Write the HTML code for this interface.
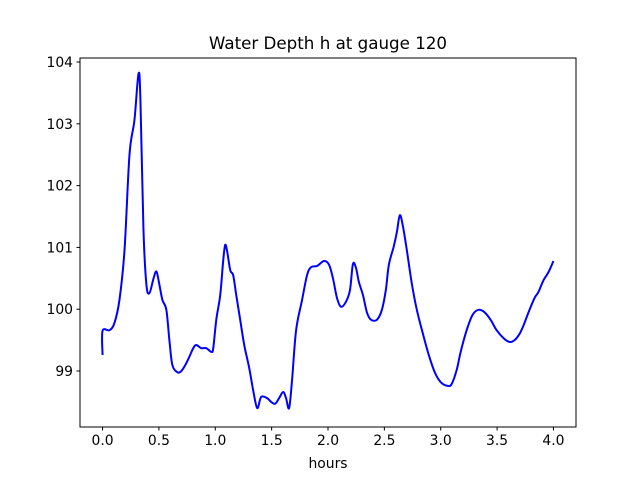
<!DOCTYPE html>
<html><head><meta charset="utf-8"><style>
html,body{margin:0;padding:0;background:#fff;}
svg text{font-family:"DejaVu Sans","Liberation Sans",sans-serif;fill:#000;}
</style></head><body>
<svg id="chart" width="640" height="480" viewBox="0 0 640 480" xmlns="http://www.w3.org/2000/svg">
<rect width="640" height="480" fill="#fff"/>
<text x="328" y="49" font-size="16.7" text-anchor="middle">Water Depth h at gauge 120</text>
<g id="plot"></g>
<rect x="80" y="58" width="496" height="369" fill="none" stroke="#000" stroke-width="1"/>
<text x="328" y="468" font-size="13.9" text-anchor="middle">hours</text>
</svg>
<script>
const xTicks = [0.0,0.5,1.0,1.5,2.0,2.5,3.0,3.5,4.0];
const xTickLabels = ["0.0","0.5","1.0","1.5","2.0","2.5","3.0","3.5","4.0"];
const yTicks = [99,100,101,102,103,104];
const yTickLabels = ["99","100","101","102","103","104"];
const hours = [0,0,0.062,0.106,0.150,0.195,0.239,0.283,0.319,0.336,0.363,0.389,0.416,0.451,0.478,0.504,0.531,0.566,0.593,0.619,0.664,0.699,0.735,0.770,0.805,0.832,0.876,0.920,0.965,0.982,1.009,1.044,1.071,1.088,1.106,1.133,1.159,1.186,1.221,1.257,1.301,1.336,1.372,1.407,1.460,1.496,1.531,1.566,1.602,1.628,1.655,1.681,1.717,1.770,1.814,1.850,1.903,1.965,2.009,2.044,2.080,2.115,2.159,2.195,2.221,2.248,2.274,2.310,2.345,2.381,2.434,2.478,2.513,2.540,2.584,2.611,2.637,2.664,2.699,2.743,2.788,2.841,2.894,2.947,3.000,3.062,3.097,3.142,3.177,3.230,3.283,3.336,3.389,3.442,3.496,3.558,3.611,3.655,3.699,3.735,3.779,3.832,3.867,3.912,3.956,4.0];
const depth = [99.26,99.65,99.66,99.78,100.15,100.96,102.50,103.06,103.81,103.39,101.29,100.40,100.26,100.49,100.61,100.40,100.15,99.99,99.50,99.10,98.98,99.00,99.10,99.23,99.37,99.42,99.37,99.37,99.31,99.37,99.83,100.23,100.80,101.04,100.93,100.63,100.55,100.23,99.83,99.42,99.05,98.69,98.40,98.58,98.56,98.50,98.47,98.56,98.66,98.56,98.40,98.85,99.66,100.15,100.55,100.68,100.70,100.78,100.72,100.50,100.18,100.04,100.12,100.31,100.73,100.67,100.44,100.23,99.95,99.83,99.83,99.99,100.31,100.72,101.02,101.25,101.52,101.35,100.96,100.42,99.99,99.61,99.26,98.98,98.82,98.76,98.79,99.02,99.31,99.66,99.91,99.99,99.95,99.83,99.66,99.53,99.47,99.50,99.60,99.74,99.95,100.18,100.28,100.47,100.60,100.78];

const L=80,R=576,T=58,B=427;
const xMin=-0.2,xMax=4.2,yMin=98.094,yMax=104.065;
const sx=v=>L+(v-xMin)/(xMax-xMin)*(R-L);
const sy=v=>B-(v-yMin)/(yMax-yMin)*(B-T);
const NS="http://www.w3.org/2000/svg";
const g=document.getElementById('plot');
function mk(tag,attrs){const e=document.createElementNS(NS,tag);for(const k in attrs)e.setAttribute(k,attrs[k]);g.appendChild(e);return e;}
xTicks.forEach((t,i)=>{
  const x=sx(t);
  const l=mk('line',{x1:x,x2:x,y1:B,y2:B+3.5,stroke:'#000','stroke-width':1});
  
  
  const tx=mk('text',{x:x,y:B+18,'font-size':13.9,'text-anchor':'middle'});
  tx.textContent=xTickLabels[i];
  
  
});
yTicks.forEach((t,i)=>{
  const y=sy(t);
  const l=mk('line',{x1:L-3.5,x2:L,y1:y,y2:y,stroke:'#000','stroke-width':1});
  
  
  const tx=mk('text',{x:L-7,y:y+5,'font-size':13.9,'text-anchor':'end'});
  tx.textContent=yTickLabels[i];
  
  
});
const pts=hours.map((h,i)=>[sx(h),sy(depth[i])]);
let d='M'+pts[0][0]+','+pts[0][1];
for(let i=0;i<pts.length-1;i++){
  const p0=pts[Math.max(0,i-1)],p1=pts[i],p2=pts[i+1],p3=pts[Math.min(pts.length-1,i+2)];
  const c1x=p1[0]+(p2[0]-p0[0])/6,c1y=p1[1]+(p2[1]-p0[1])/6;
  const c2x=p2[0]-(p3[0]-p1[0])/6,c2y=p2[1]-(p3[1]-p1[1])/6;
  d+=` C${c1x},${c1y} ${c2x},${c2y} ${p2[0]},${p2[1]}`;
}
const line=mk('path',{d:d,fill:'none',stroke:'#0000ff','stroke-width':2,'stroke-linejoin':'round'});


</script>
</body></html>
